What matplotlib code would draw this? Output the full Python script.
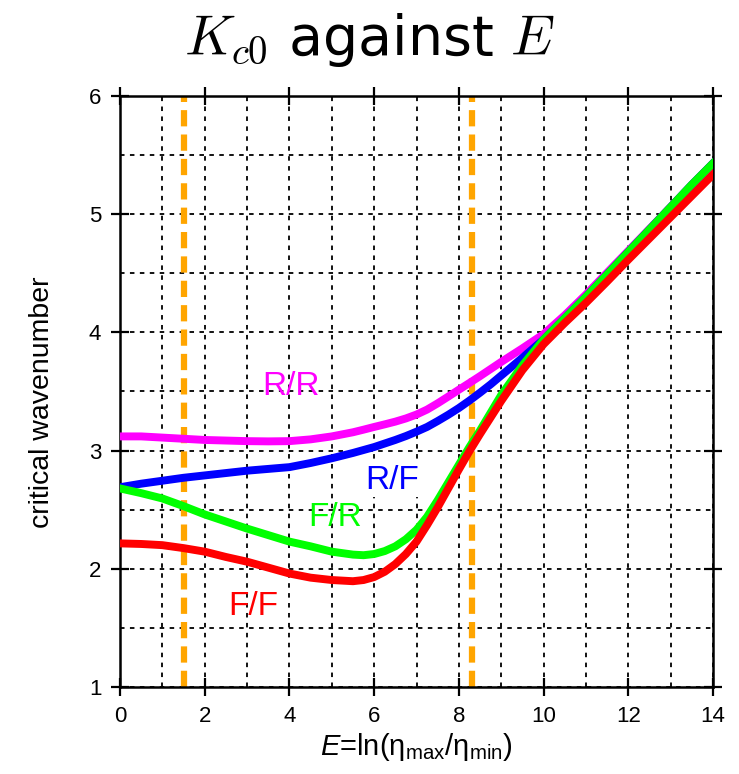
import numpy as np
import matplotlib.pyplot as plt
from matplotlib.ticker import MultipleLocator

plt.rcParams['font.family'] = ['Liberation Sans', 'DejaVu Sans']
plt.rcParams['mathtext.fontset'] = 'custom'
plt.rcParams['mathtext.rm'] = 'Liberation Sans'
plt.rcParams['mathtext.it'] = 'Liberation Sans:italic'

# E values and critical wavenumbers
E = [0, 0.5, 1, 1.5, 2, 2.5, 3, 3.5, 4, 4.5, 5, 5.5, 5.75, 6, 6.25, 6.5, 6.75, 7,
     7.25, 7.5, 7.75, 8, 8.25, 8.5, 8.75, 9, 9.5, 10, 10.5, 11, 11.5, 12, 12.5, 13, 13.5, 14]
k_RR = [3.12, 3.12, 3.11, 3.10, 3.09, 3.085, 3.08, 3.078, 3.08, 3.095, 3.12, 3.155, 3.177, 3.20,
        3.222, 3.245, 3.272, 3.305, 3.347, 3.40, 3.457, 3.515, 3.572, 3.63, 3.69, 3.75, 3.865,
        3.985, 4.145, 4.32, 4.505, 4.69, 4.875, 5.06, 5.245, 5.43]
k_RF = [2.69, 2.72, 2.745, 2.77, 2.79, 2.81, 2.83, 2.845, 2.86, 2.895, 2.935, 2.98, 3.005, 3.03,
        3.06, 3.09, 3.123, 3.16, 3.20, 3.25, 3.303, 3.36, 3.423, 3.49, 3.56, 3.635, 3.785,
        3.94, 4.12, 4.30, 4.49, 4.68, 4.87, 5.06, 5.25, 5.43]
k_FR = [2.68, 2.64, 2.595, 2.53, 2.46, 2.40, 2.34, 2.285, 2.23, 2.19, 2.145, 2.12, 2.115, 2.125,
        2.15, 2.19, 2.25, 2.33, 2.44, 2.58, 2.73, 2.88, 3.03, 3.17, 3.32, 3.47, 3.72,
        3.94, 4.12, 4.30, 4.49, 4.68, 4.87, 5.06, 5.25, 5.43]
k_FF = [2.215, 2.21, 2.20, 2.175, 2.145, 2.10, 2.06, 2.01, 1.96, 1.925, 1.905, 1.895, 1.905, 1.93,
        1.975, 2.04, 2.125, 2.23, 2.37, 2.52, 2.68, 2.84, 2.995, 3.14, 3.28, 3.42, 3.68,
        3.90, 4.08, 4.25, 4.43, 4.615, 4.795, 4.975, 5.155, 5.335]
E_marks = [1.5, 8.3]

fig = plt.figure(figsize=(7.39, 7.74), dpi=100)
ax = fig.add_axes([0.1624, 0.1124, 0.8024, 0.7636])

lw = 5.7
ax.plot(E, k_RR, color='#ff00ff', lw=lw, zorder=3)
ax.plot(E, k_RF, color='#0000ff', lw=lw, zorder=4)
ax.plot(E, k_FR, color='#00ff00', lw=lw, zorder=5)
ax.plot(E, k_FF, color='#ff0000', lw=lw, zorder=6)

for e in E_marks:
    ax.axvline(e, color='#ffa500', lw=4.5, ls=(0, (2.6, 1.3)), zorder=2)

ax.text(4.03, 3.54, 'R/R', color='#ff00ff', fontsize=24, ha='center', va='center')
ax.text(6.42, 2.75, 'R/F', color='#0000ff', fontsize=24, ha='center', va='center',
        bbox=dict(facecolor='white', edgecolor='none', pad=1), zorder=7)
ax.text(5.07, 2.43, 'F/R', color='#00ff00', fontsize=24, ha='center', va='center')
ax.text(3.15, 1.68, 'F/F', color='#ff0000', fontsize=24, ha='center', va='center')

ax.set_xlim(0, 14)
ax.set_ylim(1, 6)
ax.xaxis.set_major_locator(MultipleLocator(2))
ax.xaxis.set_minor_locator(MultipleLocator(1))
ax.yaxis.set_major_locator(MultipleLocator(1))
ax.yaxis.set_minor_locator(MultipleLocator(0.5))
ax.grid(True, which='both', color='black', ls=(0, (2.5, 3)), lw=1.3, zorder=1)

ax.tick_params(which='major', direction='inout', length=13, width=1.6,
               top=True, right=True, labelsize=16, pad=7)
ax.tick_params(which='minor', length=0)
for s in ax.spines.values():
    s.set_linewidth(1.8)

ax.set_ylabel('critical wavenumber', fontsize=20.5)
ax.yaxis.set_label_coords(-0.11, 0.482)
ax.set_xlabel(r'$\it{E}$=ln(η$_{\rm max}$/η$_{\rm min}$)', fontsize=21, labelpad=3)
fig.text(0.5, 0.948, r'$K_{c0}$ against $E$', fontsize=40, ha='center', va='center',
         family='DejaVu Sans', math_fontfamily='cm')

fig.savefig('out.png', dpi=100)
